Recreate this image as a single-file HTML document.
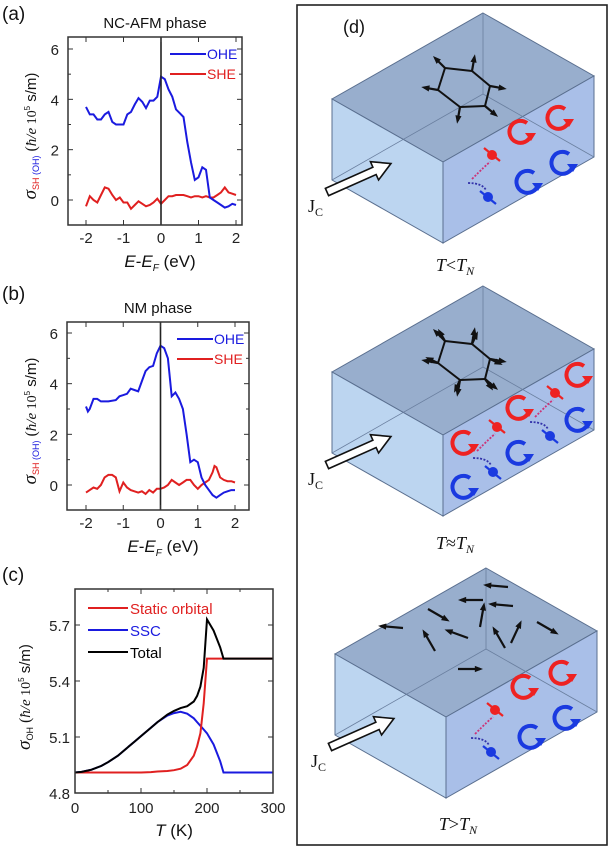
<!DOCTYPE html>
<html><head><meta charset="utf-8">
<style>
html,body{margin:0;padding:0;background:#fff;}
svg{display:block;font-family:"Liberation Sans",sans-serif;}
.tk{font-size:15px;fill:#222;}
.lab{font-size:19px;fill:#111;}
</style></head>
<body>
<svg id="fig" width="611" height="855" viewBox="0 0 611 855" xmlns="http://www.w3.org/2000/svg">
<g id="pa"></g>
<g id="pb"></g>
<g id="pc"></g>
<g id="pd"></g>
</svg>
<script>
// ---- data panel (a)
const energyA = [-2,-1.9,-1.8,-1.7,-1.6,-1.5,-1.4,-1.3,-1.2,-1.1,-1,-0.9,-0.8,-0.7,-0.6,-0.5,-0.4,-0.3,-0.2,-0.1,0,0.1,0.2,0.3,0.4,0.5,0.6,0.7,0.8,0.9,1,1.1,1.2,1.3,1.4,1.5,1.6,1.7,1.8,1.9,2];
const oheA = [3.7,3.4,3.4,3.2,3.2,3.4,3.5,3.1,3.0,3.0,3.0,3.4,3.5,3.8,4.05,3.9,3.65,3.95,3.95,4.1,4.9,4.8,4.4,4.1,3.6,3.45,3.3,2.3,1.5,0.8,0.9,1.3,1.2,0.1,0.0,-0.1,-0.2,-0.3,-0.25,-0.15,-0.2];
const sheA = [-0.25,0.15,0.0,-0.1,0.2,0.5,0.45,0.2,0.0,0.1,-0.1,-0.1,-0.35,-0.2,-0.05,-0.15,-0.25,-0.2,-0.1,0.05,-0.15,0.0,0.15,0.15,0.2,0.2,0.2,0.15,0.1,0.15,0.15,0.1,0.15,0.1,0.1,0.2,0.3,0.5,0.3,0.25,0.2];
// ---- data panel (b)
const energyB = [-2,-1.95,-1.9,-1.8,-1.7,-1.6,-1.5,-1.4,-1.2,-1.1,-1,-0.9,-0.8,-0.7,-0.6,-0.5,-0.4,-0.3,-0.2,-0.1,0,0.1,0.2,0.3,0.4,0.5,0.6,0.7,0.8,0.9,1,1.1,1.2,1.3,1.4,1.5,1.6,1.7,1.8,1.9,2];
const oheB = [3.1,2.9,3.0,3.4,3.4,3.3,3.3,3.3,3.35,3.5,3.55,3.6,3.8,3.75,3.7,4.1,4.5,4.65,4.7,5.2,5.5,5.4,5.0,3.5,3.65,3.4,3.0,2.0,0.9,1.0,0.9,0.3,0.0,-0.2,-0.4,-0.5,-0.4,-0.3,-0.25,-0.2,-0.2];
const energyB2 = [-2,-1.9,-1.8,-1.7,-1.6,-1.5,-1.4,-1.3,-1.2,-1.1,-1,-0.9,-0.8,-0.7,-0.6,-0.5,-0.4,-0.3,-0.2,-0.1,0,0.1,0.2,0.3,0.4,0.5,0.6,0.7,0.8,0.9,1,1.1,1.2,1.3,1.4,1.45,1.5,1.6,1.7,1.8,1.9,2];
const sheB = [-0.3,-0.2,-0.1,-0.15,0.0,0.3,0.4,0.4,0.3,-0.25,0.1,-0.1,-0.2,-0.25,-0.3,-0.25,-0.35,-0.2,-0.3,-0.15,-0.15,-0.1,0.0,0.2,0.1,0.0,0.1,0.2,0.2,0.0,-0.15,0.0,0.1,0.2,0.5,0.75,0.7,0.3,0.2,0.15,0.15,0.1];
const eTicks = [-2,-1,0,1,2];
const sTicks = [0,2,4,6];
// ---- data panel (c)
const temps = [0,10,25,40,50,65,75,90,100,115,125,140,150,160,170,180,185,190,195,200,210,220,225,250,300];
const staticOrb = [4.91,4.91,4.91,4.91,4.91,4.91,4.91,4.91,4.91,4.912,4.915,4.918,4.922,4.93,4.95,5.0,5.05,5.12,5.28,5.52,5.52,5.52,5.52,5.52,5.52];
const ssc = [4.91,4.913,4.925,4.945,4.965,5.0,5.03,5.075,5.105,5.15,5.18,5.215,5.228,5.235,5.225,5.20,5.18,5.16,5.14,5.12,5.06,4.97,4.91,4.91,4.91];
const total = [4.91,4.913,4.925,4.945,4.965,5.0,5.03,5.075,5.105,5.15,5.18,5.22,5.24,5.255,5.265,5.29,5.32,5.37,5.47,5.73,5.67,5.58,5.52,5.52,5.52];
const tTicks = [0,100,200,300];
const cTicks = [4.8,5.1,5.4,5.7];

const NS="http://www.w3.org/2000/svg";
function mk(tag,attrs,parent){const e=document.createElementNS(NS,tag);for(const k in attrs)e.setAttribute(k,attrs[k]);parent.appendChild(e);return e;}
function txt(s,attrs,parent){const e=mk('text',attrs,parent);e.innerHTML=s;return e;}
function lin(x0,x1,p0,p1){return v=>p0+(v-x0)*(p1-p0)/(x1-x0);}
function pathOf(xs,ys,sx,sy){return xs.map((v,i)=>(i?'L':'M')+sx(v).toFixed(1)+' '+sy(ys[i]).toFixed(1)).join(' ');}

function ePanel(g,box,letter,title,xsO,ohe,xsS,she){
  const [L,R,T,B]=box.rect;
  const sx=lin(-2,2,box.x0,box.x2), sy=lin(0,6,box.y0,box.y6);
  let e;
  e=txt('('+letter+')',{x:2,y:box.lab,class:'lab'},g);
  
  
  e=txt(title,{x:(L+R)/2,y:T-9,'text-anchor':'middle','font-size':'15',fill:'#111'},g);
  
  
  e=mk('path',{d:pathOf(xsS,she,sx,sy),fill:'none',stroke:'#e02020','stroke-width':2},g);
  
  
  e=mk('path',{d:pathOf(xsO,ohe,sx,sy),fill:'none',stroke:'#1a1adf','stroke-width':2},g);
  
  
  mk('line',{x1:sx(0),x2:sx(0),y1:T,y2:B,stroke:'#222','stroke-width':1.6},g);
  e=mk('rect',{x:L,y:T,width:R-L,height:B-T,fill:'none',stroke:'#333','stroke-width':1.5},g);
  
  
  eTicks.forEach(v=>{const x=sx(v);mk('line',{x1:x,x2:x,y1:B,y2:B-5,stroke:'#333'},g);mk('line',{x1:x,x2:x,y1:T,y2:T+5,stroke:'#333'},g);
    e=txt(v,{x:x,y:B+18,'text-anchor':'middle',class:'tk'},g);
    
    });
  sTicks.forEach(v=>{const y=sy(v);mk('line',{x1:L,x2:L+5,y1:y,y2:y,stroke:'#333'},g);mk('line',{x1:R,x2:R-5,y1:y,y2:y,stroke:'#333'},g);
    e=txt(v,{x:L-9,y:y+6,'text-anchor':'end',class:'tk','font-size':'17'},g);
    
    });
  [1,3,5].forEach(v=>{const y=sy(v);mk('line',{x1:L,x2:L+3,y1:y,y2:y,stroke:'#333'},g);mk('line',{x1:R,x2:R-3,y1:y,y2:y,stroke:'#333'},g);});
  const lx=R-72;
  mk('line',{x1:lx,x2:lx+36,y1:T+17,y2:T+17,stroke:'#1a1adf','stroke-width':2},g);
  e=txt('OHE',{x:lx+37,y:T+22,'font-size':'14',fill:'#1a1adf'},g);
  
  
  mk('line',{x1:lx,x2:lx+36,y1:T+37,y2:T+37,stroke:'#e02020','stroke-width':2},g);
  e=txt('SHE',{x:lx+37,y:T+42,'font-size':'14',fill:'#e02020'},g);
  
  
  e=txt('<tspan font-style="italic">E</tspan>-<tspan font-style="italic">E</tspan><tspan font-size="10" dy="4" font-style="italic">F</tspan><tspan dy="-4"> (eV)</tspan>',{x:(L+R)/2+5,y:B+42,'text-anchor':'middle','font-size':'17',fill:'#111'},g);
  
  
  const cy=(T+B)/2+5;
  e=txt('<tspan font-family="Liberation Serif" font-style="italic" font-size="19">σ</tspan><tspan font-size="9" fill="#e02020" dy="3">SH</tspan><tspan font-size="9" fill="#1a1adf"> (OH)</tspan><tspan dy="-3" font-family="Liberation Serif" font-size="16"> (</tspan><tspan font-family="Liberation Serif" font-style="italic" font-size="15">ħ/e</tspan><tspan font-family="Liberation Serif" font-size="14"> 10</tspan><tspan font-size="8" dy="-6">5</tspan><tspan dy="6" font-size="15"> s/m)</tspan>',{x:0,y:0,'text-anchor':'middle',transform:'translate(36,'+cy+') rotate(-90)',fill:'#111'},g);
  
  
}
ePanel(document.getElementById('pa'),{rect:[68,242,37,225],x0:86,x2:236,y0:200,y6:49,lab:20},'a','NC-AFM phase',energyA,oheA,energyA,sheA);
ePanel(document.getElementById('pb'),{rect:[67,249,322,510],x0:86,x2:235,y0:485,y6:333,lab:300},'b','NM phase',energyB,oheB,energyB2,sheB);

// panel c
(function(){
  const g=document.getElementById('pc');
  const L=75,R=273,T=589,B=793;
  const sx=lin(0,300,L,R), sy=lin(4.8,5.7,B,625);
  let e;
  e=txt('(c)',{x:2,y:581,class:'lab'},g);
  
  
  e=mk('path',{d:pathOf(temps,ssc,sx,sy),fill:'none',stroke:'#1a1adf','stroke-width':2},g);
  
  
  e=mk('path',{d:pathOf(temps,staticOrb,sx,sy),fill:'none',stroke:'#e02020','stroke-width':2},g);
  
  
  e=mk('path',{d:pathOf(temps,total,sx,sy),fill:'none',stroke:'#000','stroke-width':2},g);
  
  
  e=mk('rect',{x:L,y:T,width:R-L,height:B-T,fill:'none',stroke:'#333','stroke-width':1.5},g);
  
  
  tTicks.forEach(v=>{const x=sx(v);mk('line',{x1:x,x2:x,y1:B,y2:B-5,stroke:'#333'},g);mk('line',{x1:x,x2:x,y1:T,y2:T+5,stroke:'#333'},g);
    e=txt(v,{x:x,y:B+20,'text-anchor':'middle',class:'tk','font-size':'17'},g);
    
    });
  [50,150,250].forEach(v=>{const x=sx(v);mk('line',{x1:x,x2:x,y1:B,y2:B-3,stroke:'#333'},g);mk('line',{x1:x,x2:x,y1:T,y2:T+3,stroke:'#333'},g);});
  cTicks.forEach(v=>{const y=sy(v);mk('line',{x1:L,x2:L+5,y1:y,y2:y,stroke:'#333'},g);mk('line',{x1:R,x2:R-5,y1:y,y2:y,stroke:'#333'},g);
    e=txt(v.toFixed(1),{x:L-5,y:y+6,'text-anchor':'end',class:'tk','font-size':'17'},g);
    
    });
  const leg=[['Static orbital','#e02020'],['SSC','#1a1adf'],['Total','#000']];
  leg.forEach((d,i)=>{const y=T+19+i*22;mk('line',{x1:L+13,x2:L+53,y1:y,y2:y,stroke:d[1],'stroke-width':2},g);
    e=txt(d[0],{x:L+55,y:y+6,'font-size':'15',fill:d[1]},g);
    
    });
  e=txt('<tspan font-style="italic">T</tspan> (K)',{x:(L+R)/2,y:B+43,'text-anchor':'middle','font-size':'17',fill:'#111'},g);
  
  
  e=txt('<tspan font-family="Liberation Serif" font-style="italic" font-size="19">σ</tspan><tspan font-size="9" dy="3">OH</tspan><tspan dy="-3" font-family="Liberation Serif" font-size="16"> (</tspan><tspan font-family="Liberation Serif" font-style="italic" font-size="15">ħ/e</tspan><tspan font-family="Liberation Serif" font-size="14"> 10</tspan><tspan font-size="8" dy="-6">5</tspan><tspan dy="6" font-size="15"> s/m)</tspan>',{x:0,y:0,'text-anchor':'middle',transform:'translate(30,697) rotate(-90)',fill:'#111'},g);
  
  
})();

// panel d
(function(){
  const g=document.getElementById('pd');
  let e;
  e=mk('rect',{x:297,y:5,width:310,height:840,fill:'none',stroke:'#222','stroke-width':1.6},g);
  
  
  e=txt('(d)',{x:343,y:33,'font-size':'18',fill:'#111'},g);
  
  
  function P(a){return a.map(p=>p.join(',')).join(' ');}
  function box(dx,dy,caption,capY,jcY,mode){
    const bg=mk('g',{transform:'translate('+dx+','+dy+')'},g);
    
    
    const tv=[483,13],lt=[332,99],fc=[443,162],rt=[594,76],lb=[332,180],fb=[443,243],rb=[594,157],hv=[483,94];
    mk('polygon',{points:P([tv,rt,fc,lt]),fill:'#98aecd',stroke:'#5a6f8f','stroke-width':1},bg);
    mk('polygon',{points:P([lt,fc,fb,lb]),fill:'#bcd5f0',stroke:'#5a6f8f','stroke-width':1},bg);
    mk('polygon',{points:P([fc,rt,rb,fb]),fill:'#a9bfe8',stroke:'#5a6f8f','stroke-width':1},bg);
    mk('polyline',{points:P([tv,hv,lb]),fill:'none',stroke:'#6a7f9f','stroke-width':0.8},bg);
    mk('line',{x1:hv[0],y1:hv[1],x2:rb[0],y2:rb[1],stroke:'#6a7f9f','stroke-width':0.8},bg);
    const ar=(x,y,ang,len)=>{const r=ang*Math.PI/180,x2=x+len*Math.cos(r),y2=y+len*Math.sin(r);
      mk('line',{x1:x,y1:y,x2:x2,y2:y2,stroke:'#111','stroke-width':2.2},bg);
      const a1=r+2.6,a2=r-2.6;
      mk('polygon',{points:P([[x2+3*Math.cos(r),y2+3*Math.sin(r)],[x2+6*Math.cos(a1),y2+6*Math.sin(a1)],[x2+6*Math.cos(a2),y2+6*Math.sin(a2)]]),fill:'#111'},bg);};
    if(mode!=='random'){
      const hx=[[445,68],[472,71],[490,86],[485,106],[460,107],[438,90]];
      for(let i=0;i<6;i++){const a=hx[i],b=hx[(i+1)%6];mk('line',{x1:a[0],y1:a[1],x2:b[0],y2:b[1],stroke:'#111','stroke-width':2},bg);}
      [[445,68,-135],[472,71,-80],[490,86,10],[485,106,40],[460,107,100],[438,90,190]].forEach(s=>ar(s[0],s[1],s[2],14));
      if(mode==='fuzzy') [[445,68,-120],[472,71,-65],[490,86,25],[485,106,55],[460,107,115],[438,90,205]].forEach(s=>ar(s[0],s[1],s[2],11));
    } else {
      [[505,32,185],[480,45,180],[425,54,30],[400,73,185],[477,72,-80],[510,51,185],[534,67,30],[465,83,200],[432,96,-120],[502,93,-120],[508,88,-65],[455,114,0]].forEach(s=>ar(s[0],s[1],s[2],22));
    }
    const circ=(x,y,c)=>{mk('path',{d:'M'+(x+7)+' '+(y-9)+' A11 11 0 1 0 '+(x+11)+' '+(y+3),fill:'none',stroke:c,'stroke-width':4},bg);
      mk('polygon',{points:P([[x+11,y+9],[x+5,y+1],[x+16,y+1]]),fill:c},bg);};
    const ball=(x,y,c,up)=>{mk('circle',{cx:x,cy:y,r:5,fill:c},bg);
      mk('line',{x1:x-8,y1:up?y-7:y-6,x2:x+8,y2:up?y+6:y+7,stroke:c,'stroke-width':2.2},bg);
      mk('path',{d:'M'+(x-20)+' '+(y+(up?24:-14))+' Q'+(x-6)+' '+(y+(up?10:-14))+' '+(x-2)+' '+(y+(up?7:-7)),fill:'none',stroke:up?'#cc3377':'#3333aa','stroke-width':1.8,'stroke-dasharray':'2,1.5'},bg);};
    const items = mode==='fuzzy'
      ? {r:[[463,170],[518,135],[577,102]],b:[[463,214],[518,180],[577,147]],rb:[[497,154],[555,120]],bb:[[493,199],[550,163]]}
      : {r:[[520,132],[558,118]],b:[[527,182],[562,163]],rb:[[492,155]],bb:[[488,197]]};
    items.r.forEach(p=>circ(p[0],p[1],'#ee2222'));
    items.b.forEach(p=>circ(p[0],p[1],'#1a3ae0'));
    items.rb.forEach(p=>ball(p[0],p[1],'#ee2222',true));
    items.bb.forEach(p=>ball(p[0],p[1],'#1a3ae0',false));
    const ag=mk('g',{transform:'translate(327,192) rotate(-24)'},bg);
    
    
    mk('polygon',{points:'0,-4 52,-4 52,-10 70,0 52,10 52,4 0,4',fill:'#fff',stroke:'#111','stroke-width':1.6},ag);
    e=txt('J<tspan font-size="12" dy="4">C</tspan>',{x:308,y:jcY,'font-size':'18','font-family':'Liberation Serif',fill:'#111'},bg);
    
    
    e=txt(caption,{x:455,y:capY,'text-anchor':'middle','font-size':'18','font-family':'Liberation Serif',fill:'#111'},bg);
    
    
  }
  box(0,0,'<tspan font-style="italic">T</tspan>&lt;<tspan font-style="italic">T</tspan><tspan font-size="12" dy="4" font-style="italic">N</tspan>',271,212,'order');
  box(0,273,'<tspan font-style="italic">T</tspan>≈<tspan font-style="italic">T</tspan><tspan font-size="12" dy="4" font-style="italic">N</tspan>',276,212,'fuzzy');
  box(3,555,'<tspan font-style="italic">T</tspan>&gt;<tspan font-style="italic">T</tspan><tspan font-size="12" dy="4" font-style="italic">N</tspan>',275,212,'random');
})();
</script>
</body></html>
